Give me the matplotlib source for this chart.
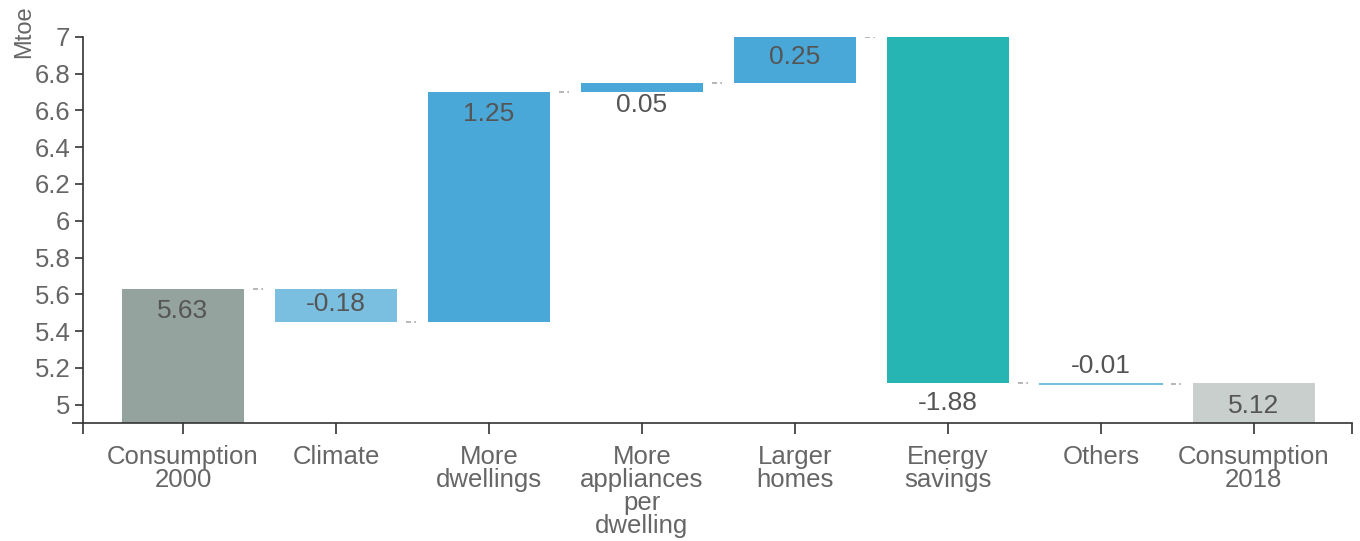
import matplotlib.pyplot as plt
import numpy as np

categories = ["Consumption\n2000", "Climate", "More\ndwellings", "More\nappliances\nper\ndwelling",
              "Larger\nhomes", "Energy\nsavings", "Others", "Consumption\n2018"]
changes = [5.63, -0.18, 1.25, 0.05, 0.25, -1.88, -0.01, 5.12]
labels = ["5.63", "-0.18", "1.25", "0.05", "0.25", "-1.88", "-0.01", "5.12"]
colors = ["#94a39d", "#7abfe0", "#4aa8d8", "#4aa8d8", "#4aa8d8", "#26b5b2", "#7abfe0", "#c9cfcd"]
label_y = [5.51, 5.55, 6.58, 6.63, 6.89, 5.01, 5.21, 4.995]

plt.rcParams['font.family'] = ['Liberation Sans', 'DejaVu Sans']

fig = plt.figure(figsize=(13.6, 5.41), dpi=100)
ax = fig.add_axes([0.061, 0.218, 0.933, 0.714])

x = np.arange(len(categories))
bottoms = []
tops = []
run = 0.0
for i, c in enumerate(changes):
    if i == 0 or i == len(changes) - 1:
        b, t = 4.9, c
        run = c
    else:
        b, t = run, run + c
        run = run + c
    bottoms.append(min(b, t))
    tops.append(max(b, t))

for i in x:
    h = tops[i] - bottoms[i]
    if h < 0.02:
        ax.plot([i - 0.4, i + 0.4], [bottoms[i], bottoms[i]], color=colors[i], lw=1.5)
    else:
        ax.bar(i, h, bottom=bottoms[i], width=0.8, color=colors[i])
    ax.text(i, label_y[i], labels[i], ha='center', va='center', fontsize=19, color='#555555')

# connectors between bars
levels = [5.63, 5.45, 6.70, 6.75, 7.0, 5.12, 5.11]
for i, lv in enumerate(levels):
    ax.plot([i + 0.46, i + 0.54], [lv, lv], color='#aaaaaa', lw=1.2, dashes=(3, 2, 1, 2))

ax.set_xlim(-0.654, 7.64)
ax.set_ylim(4.9, 7.0)
ax.set_yticks([5, 5.2, 5.4, 5.6, 5.8, 6, 6.2, 6.4, 6.6, 6.8, 7])
ax.set_yticklabels(["5", "5.2", "5.4", "5.6", "5.8", "6", "6.2", "6.4", "6.6", "6.8", "7"])
ax.set_xticks(x)
ax.set_xticklabels(categories, linespacing=0.95)
ax.set_xticks([-0.654, 7.64], minor=True)
ax.set_yticks([4.9], minor=True)
ax.tick_params(axis='y', labelsize=18.5, labelcolor='#666666', length=6, width=1.2, color='#333333', pad=3)
ax.tick_params(axis='x', labelsize=18.5, labelcolor='#666666', length=8, width=1.2, color='#333333', pad=8)
ax.tick_params(which='minor', length=8, width=1.2, color='#333333')
for s in ['top', 'right']:
    ax.spines[s].set_visible(False)
for s in ['left', 'bottom']:
    ax.spines[s].set_color('#333333')
    ax.spines[s].set_linewidth(1.2)

fig.text(0.01, 0.99, "Mtoe", rotation=90, ha='left', va='top', fontsize=17, color='#666666')

fig.savefig("out.png", dpi=100)
